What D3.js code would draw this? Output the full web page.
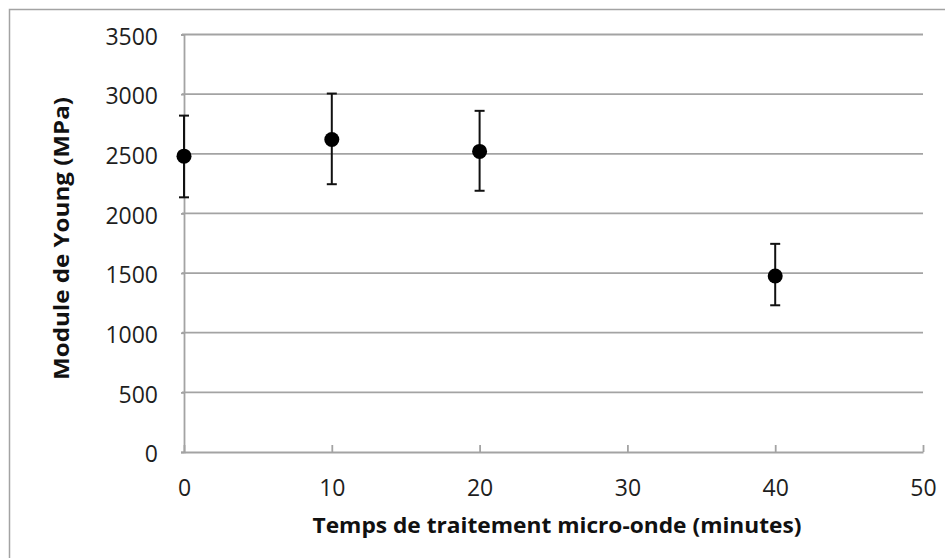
<!DOCTYPE html>
<html>
<head>
<meta charset="utf-8">
<script src="https://cdn.jsdelivr.net/npm/d3@7"></script>
<style>
  body { margin: 0; background: #fff; }
  svg { display: block; font-family: "Open Sans", sans-serif; }
</style>
</head>
<body>
<svg id="chart" width="945" height="558"></svg>
<script>
// temps de traitement (min), module moyen et bornes des barres d'erreur (MPa)
var times = [0, 10, 20, 40];
var modulus = [2480, 2620, 2520, 1475];
var errHigh = [2820, 3005, 2860, 1745];
var errLow = [2135, 2245, 2190, 1230];
var xTicks = [0, 10, 20, 30, 40, 50];
var yTicks = [0, 500, 1000, 1500, 2000, 2500, 3000, 3500];

var svg = d3.select("#chart");
var gridColor = "#a3a3a3";

// cadre du graphique
svg.append("rect")
  .attr("x", 9.5).attr("y", 9.5)
  .attr("width", 960).attr("height", 600)
  .attr("fill", "none")
  .attr("stroke", gridColor)
  .attr("stroke-width", 1.5);

var x = d3.scaleLinear().domain([0, 50]).range([184, 923]);
var y = d3.scaleLinear().domain([0, 3500]).range([452, 34.5]);

// grille horizontale
svg.append("g").selectAll("line")
  .data(yTicks.filter(function (d) { return d > 0; }))
  .enter().append("line")
  .attr("x1", x(0) - 2).attr("x2", x(50))
  .attr("y1", function (d) { return y(d); })
  .attr("y2", function (d) { return y(d); })
  .attr("stroke", gridColor).attr("stroke-width", 1.8);

// axe Y
var yAxis = svg.append("g")
  .attr("transform", "translate(" + x(0) + ",0)")
  .call(d3.axisLeft(y).tickValues(yTicks).tickFormat(d3.format("d"))
    .tickSize(3).tickPadding(23));
yAxis.select(".domain").attr("stroke", gridColor).attr("stroke-width", 1.8);
yAxis.selectAll(".tick line").attr("stroke", gridColor).attr("stroke-width", 1.8);
yAxis.selectAll(".tick text")
  .attr("font-size", 23).attr("fill", "#1e1e1e")
  .attr("font-family", "Open Sans, sans-serif")
  .attr("dy", "0.42em");

// axe X (graduations vers l'intérieur)
var xAxis = svg.append("g")
  .attr("transform", "translate(0," + y(0) + ")")
  .call(d3.axisBottom(x).tickValues(xTicks).tickFormat(d3.format("d"))
    .tickSize(-7).tickSizeOuter(0).tickPadding(0));
xAxis.select(".domain").attr("stroke", gridColor).attr("stroke-width", 1.8);
xAxis.selectAll(".tick line").attr("stroke", gridColor).attr("stroke-width", 1.8);
xAxis.selectAll(".tick text")
  .attr("font-size", 23).attr("fill", "#1e1e1e")
  .attr("font-family", "Open Sans, sans-serif")
  .attr("y", 44).attr("dy", 0);

// titres
svg.append("text")
  .attr("x", 557).attr("y", 533)
  .attr("text-anchor", "middle")
  .attr("font-size", 21).attr("font-weight", "bold").attr("fill", "#111")
  .attr("textLength", 489).attr("lengthAdjust", "spacingAndGlyphs")
  .text("Temps de traitement micro-onde (minutes)");

svg.append("text")
  .attr("transform", "translate(69,238.5) rotate(-90)")
  .attr("text-anchor", "middle")
  .attr("font-size", 21).attr("font-weight", "bold").attr("fill", "#111")
  .attr("textLength", 283).attr("lengthAdjust", "spacingAndGlyphs")
  .text("Module de Young (MPa)");

// barres d'erreur
var pts = times.map(function (t, i) {
  return { t: t, v: modulus[i], hi: errHigh[i], lo: errLow[i] };
});
var err = svg.append("g").attr("stroke", "#111").attr("stroke-width", 2);
err.selectAll("line.v").data(pts).enter().append("line")
  .attr("class", "v")
  .attr("x1", function (d) { return x(d.t); })
  .attr("x2", function (d) { return x(d.t); })
  .attr("y1", function (d) { return y(d.hi); })
  .attr("y2", function (d) { return y(d.lo); });
["hi", "lo"].forEach(function (k) {
  err.selectAll("line." + k).data(pts).enter().append("line")
    .attr("class", k)
    .attr("x1", function (d) { return x(d.t) - 5; })
    .attr("x2", function (d) { return x(d.t) + 5; })
    .attr("y1", function (d) { return y(d[k]); })
    .attr("y2", function (d) { return y(d[k]); });
});

// points
svg.append("g").selectAll("circle").data(pts).enter().append("circle")
  .attr("cx", function (d) { return x(d.t); })
  .attr("cy", function (d) { return y(d.v); })
  .attr("r", 7.5)
  .attr("fill", "#000");
</script>
</body>
</html>
